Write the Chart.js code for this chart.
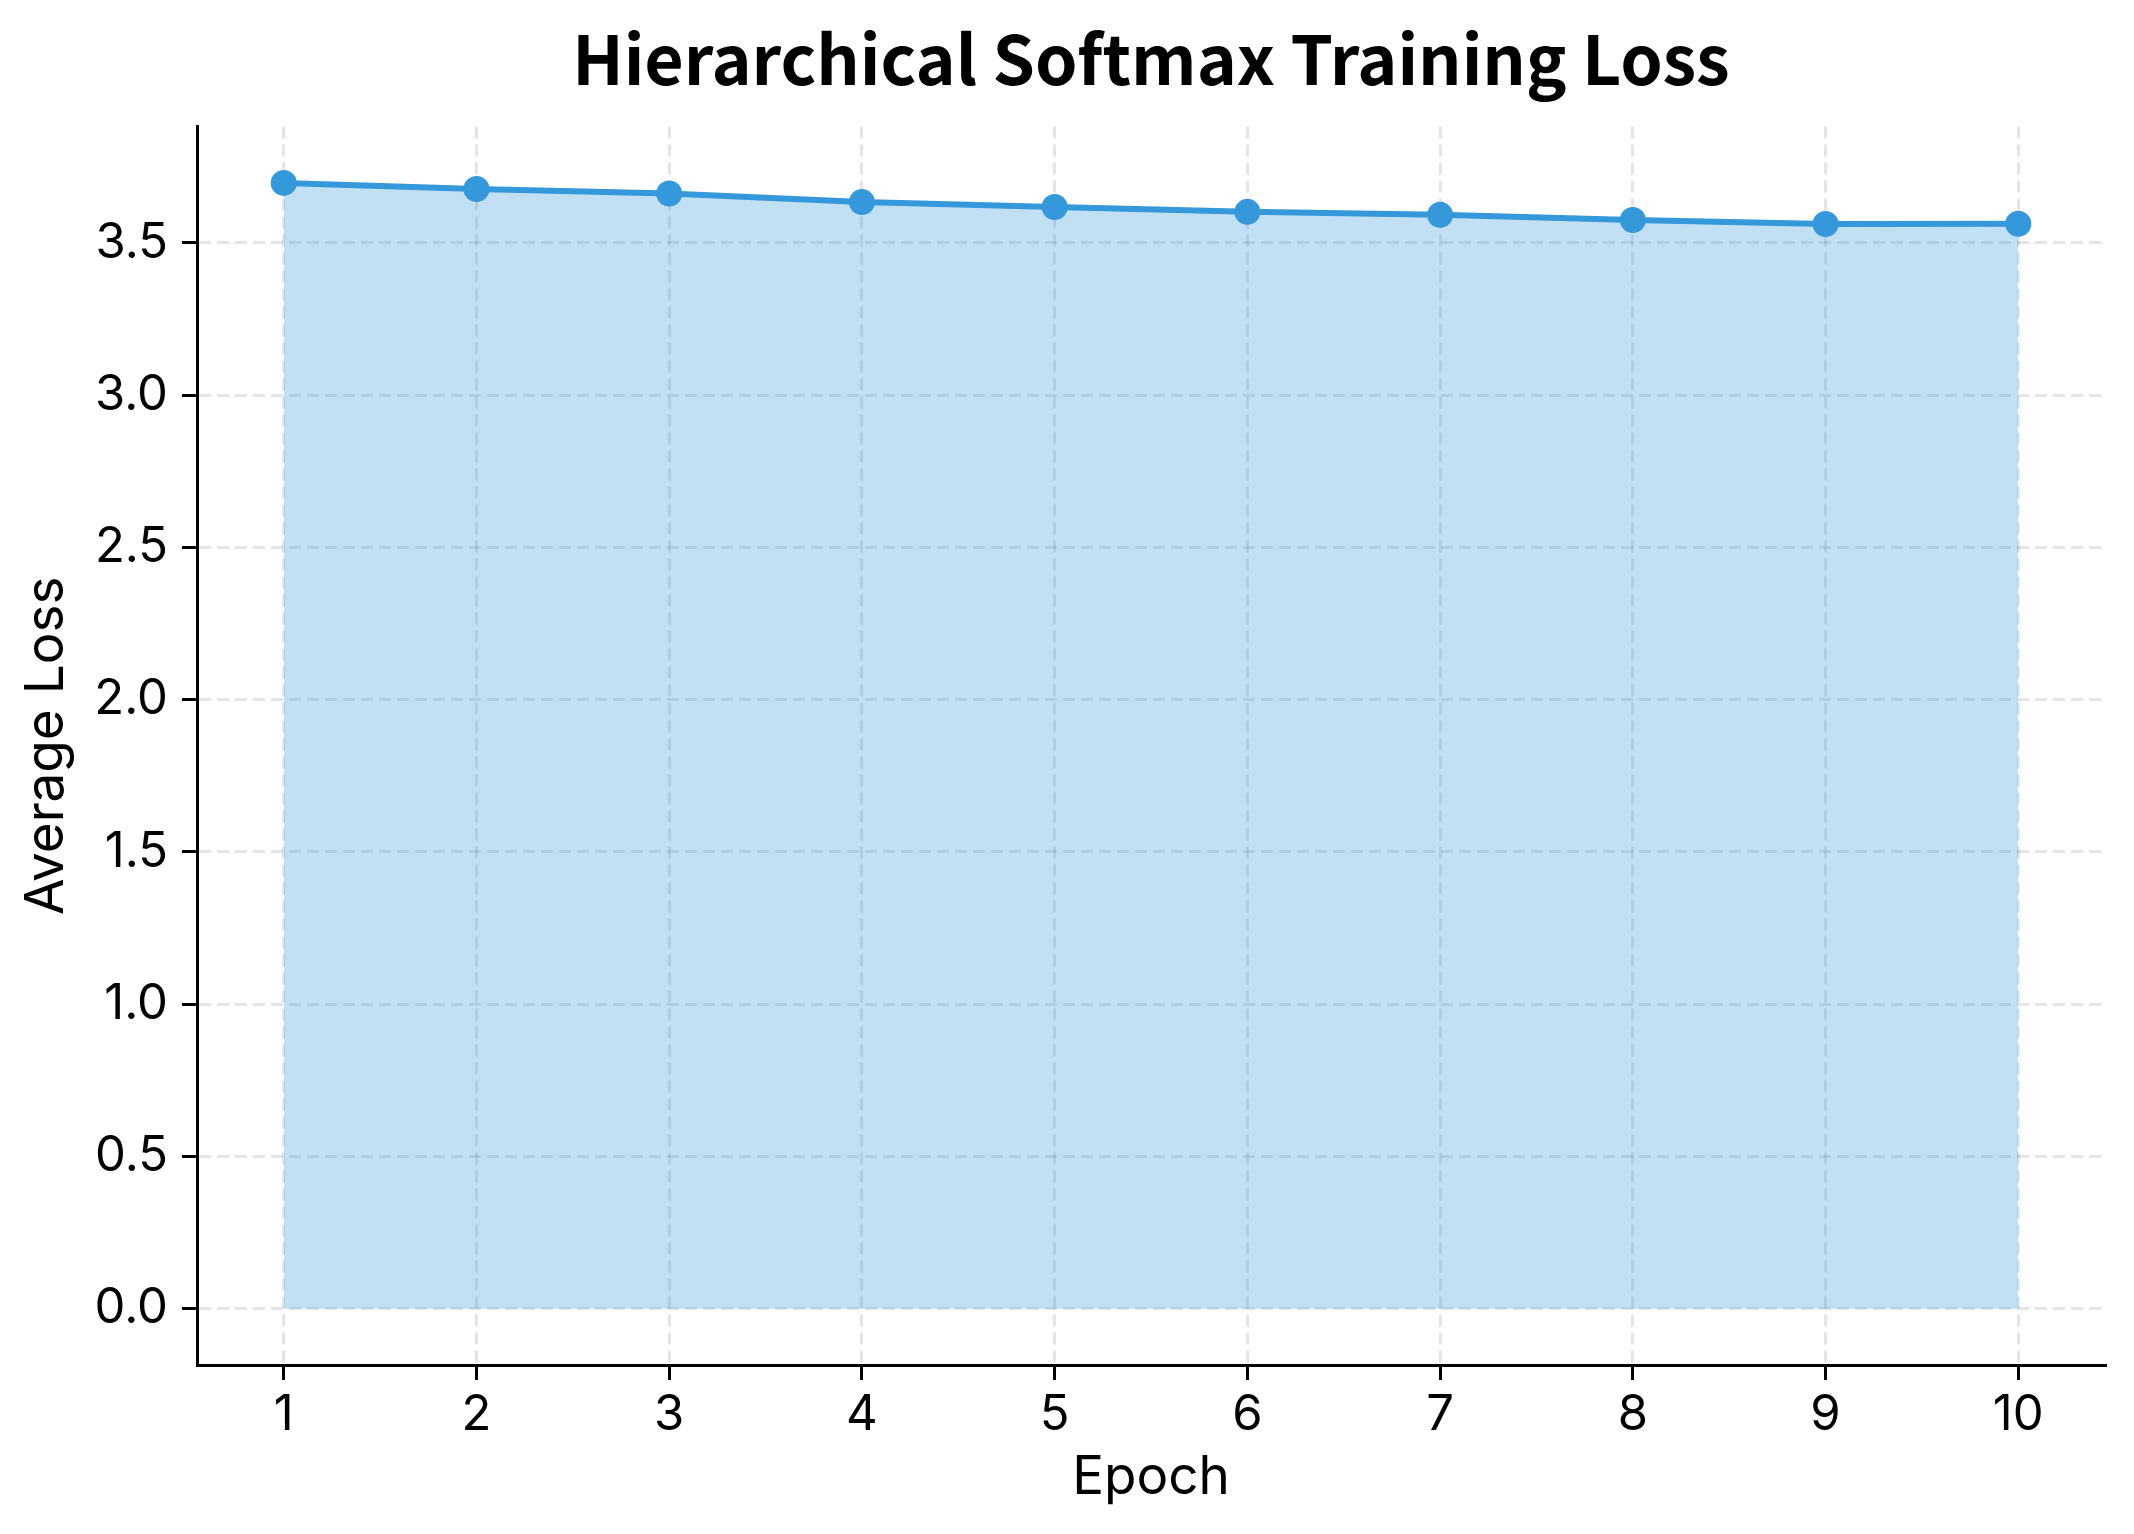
<!DOCTYPE html>
<html lang="en">

<head>
    <meta charset="UTF-8">
    <title>Hierarchical Softmax Training Loss</title>
    <script src="https://cdn.jsdelivr.net/npm/chart.js"></script>
    <style>
        html, body { margin: 0; padding: 0; background: #ffffff; }
        #wrap { width: 2134px; height: 1534px; }
    </style>
</head>

<body>
    <div id="wrap">
        <canvas id="lossChart" width="2134" height="1534"></canvas>
    </div>

    <script>
        // values
        const epochs = [1, 2, 3, 4, 5, 6, 7, 8, 9, 10];
        const avgLoss = [3.697, 3.677, 3.662, 3.634, 3.618, 3.602, 3.592, 3.575, 3.562, 3.563];
        const yTicks = [0.0, 0.5, 1.0, 1.5, 2.0, 2.5, 3.0, 3.5];
        const xTicks = [1, 2, 3, 4, 5, 6, 7, 8, 9, 10];

        const TITLE_FONT = "'Noto Sans CJK JP', 'Noto Sans', sans-serif";
        const FONT = "Inter, 'Noto Sans', sans-serif";
        const BLUE = '#3498db';

        // matplotlib style 5% margins round the data
        const yLo = Math.min(0, ...avgLoss), yHi = Math.max(...avgLoss);
        const yPad = (yHi - yLo) * 0.05;
        const xPad = (epochs[epochs.length - 1] - epochs[0]) * 0.05;

        const ctx = document.getElementById('lossChart').getContext('2d');
        const chart = new Chart(ctx, {
            type: 'line',
            data: {
                datasets: [{
                    label: 'Average Loss',
                    data: epochs.map((e, i) => ({ x: e, y: avgLoss[i] })),
                    borderColor: BLUE,
                    borderWidth: 6,
                    backgroundColor: 'rgba(52, 152, 219, 0.3)',
                    fill: 'origin',
                    tension: 0,
                    pointRadius: 13,
                    pointHoverRadius: 13,
                    pointBackgroundColor: BLUE,
                    pointBorderColor: BLUE,
                    pointBorderWidth: 0
                }]
            },
            options: {
                responsive: false,
                animation: false,
                devicePixelRatio: 1,
                layout: { padding: { top: 0, right: 29, bottom: 0, left: 0 } },
                plugins: {
                    legend: { display: false },
                    tooltip: { enabled: false },
                    title: {
                        display: true,
                        text: 'Hierarchical Softmax Training Loss',
                        fullSize: false,
                        color: '#000000',
                        font: { family: TITLE_FONT, size: 68, weight: 'bold', lineHeight: 1.2 },
                        padding: { top: 18, bottom: 27 }
                    }
                },
                scales: {
                    x: {
                        type: 'linear',
                        min: epochs[0] - xPad,
                        max: epochs[epochs.length - 1] + xPad,
                        afterBuildTicks: (axis) => { axis.ticks = xTicks.map(v => ({ value: v })); },
                        afterFit: (axis) => { axis.height = 169; },
                        ticks: {
                            color: '#000000',
                            font: { family: FONT, size: 49 },
                            padding: 6,
                            maxRotation: 0,
                            callback: (v) => String(v)
                        },
                        grid: {
                            color: 'rgba(0, 0, 0, 0.1)',
                            lineWidth: 3,
                            tickColor: '#000000',
                            tickWidth: 3,
                            tickLength: 15,
                            tickBorderDash: []
                        },
                        border: { display: true, color: '#000000', width: 3, dash: [12, 6] },
                        title: {
                            display: true,
                            text: 'Epoch',
                            color: '#000000',
                            font: { family: FONT, size: 53, lineHeight: 1.2 },
                            padding: { top: 0, bottom: 24 }
                        }
                    },
                    y: {
                        type: 'linear',
                        min: yLo - yPad,
                        max: yHi + yPad,
                        afterBuildTicks: (axis) => { axis.ticks = yTicks.map(v => ({ value: v })); },
                        afterFit: (axis) => { axis.width = 197; },
                        ticks: {
                            color: '#000000',
                            font: { family: FONT, size: 49 },
                            padding: 14,
                            callback: (v) => Number(v).toFixed(1)
                        },
                        grid: {
                            color: 'rgba(0, 0, 0, 0.1)',
                            lineWidth: 3,
                            tickColor: '#000000',
                            tickWidth: 3,
                            tickLength: 15,
                            tickBorderDash: []
                        },
                        border: { display: true, color: '#000000', width: 3, dash: [12, 6] },
                        title: {
                            display: true,
                            text: 'Average Loss',
                            color: '#000000',
                            font: { family: FONT, size: 53, lineHeight: 1.2 },
                            padding: { top: 15, bottom: 0 }
                        }
                    }
                }
            }
        });
    </script>
</body>

</html>
